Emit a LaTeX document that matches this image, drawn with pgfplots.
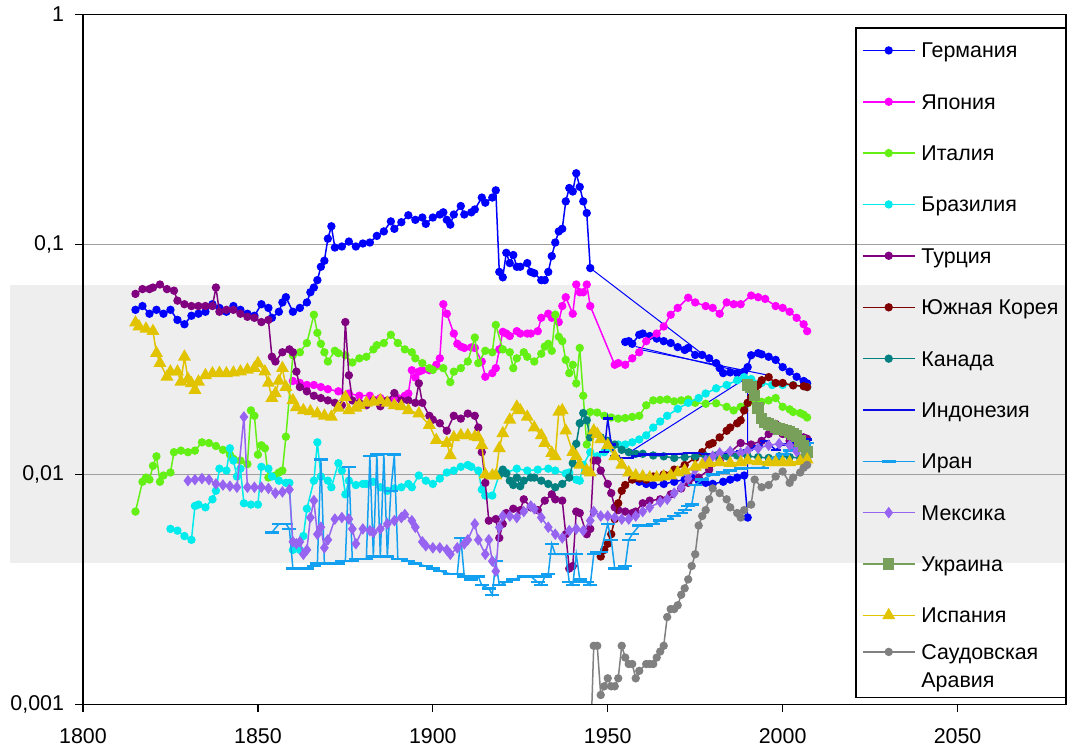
\documentclass[border=0pt]{standalone}
\usepackage{fontspec}
\setmainfont{Liberation Sans}
\usepackage{pgfplots}
\pgfplotsset{compat=1.18}
\definecolor{cGer}{RGB}{0,0,255}
\definecolor{cJap}{RGB}{255,0,255}
\definecolor{cIta}{RGB}{100,240,20}
\definecolor{cBra}{RGB}{0,235,235}
\definecolor{cTur}{RGB}{128,0,128}
\definecolor{cKor}{RGB}{128,0,0}
\definecolor{cCan}{RGB}{0,128,128}
\definecolor{cIdn}{RGB}{10,10,230}
\definecolor{cIrn}{RGB}{20,160,240}
\definecolor{cMex}{RGB}{150,100,240}
\definecolor{cUkr}{RGB}{120,160,90}
\definecolor{cEsp}{RGB}{225,195,0}
\definecolor{cSau}{RGB}{128,128,128}
\definecolor{bandc}{RGB}{238,238,238}
\newcommand{\ls}{\rule[-3pt]{0pt}{9.5pt}}
\pgfplotsset{saudilegend/.style={legend image code/.code={%
    \begin{pgfinterruptboundingbox}
    \draw[mark repeat=2,mark phase=2,##1] plot coordinates {(0pt,13.7pt) (13pt,13.7pt) (26pt,13.7pt)};
    \end{pgfinterruptboundingbox}
    \path (0pt,0pt) (26pt,10pt);
  }}}
\begin{document}
\fontsize{10.7}{12.8}\selectfont
\begin{tikzpicture}
\begin{axis}[
  scale only axis, width=491.5pt, height=345pt,
  ymode=log, xmin=1800, xmax=2081, ymin=0.001, ymax=1,
  xtick={1800,1850,1900,1950,2000,2050},
  xticklabels={1800,1850,1900,1950,2000,2050},
  ytick={0.001,0.01,0.1,1},
  yticklabels={{0,001},{0,01},{0,1},{1}},
  yminorticks=false, xminorticks=false,
  xtick pos=bottom, ytick pos=left,
  tick align=outside, major tick length=3.75pt,
  tick style={black, line width=0.6pt},
  axis line style={line width=0.6pt},
  ticklabel style={font=\fontsize{10.7}{12.8}\selectfont},
  xticklabel style={yshift=-4.5pt},
  yticklabel style={xshift=-2pt},
  axis on top,
  clip mode=individual,
  every axis plot/.append style={line width=0.75pt},
  legend image code/.code={
    \path (0pt,0pt) (26pt,7.4pt);
    \draw[mark repeat=2,mark phase=2,#1] plot coordinates {(0pt,3.7pt) (13pt,3.7pt) (26pt,3.7pt)};
  },
  legend style={at={(rel axis cs:1,1)}, anchor=north east, yshift=-6.5pt,
    draw=black, line width=0.6pt, fill=none,
    font=\fontsize{10.7}{12.8}\selectfont,
    inner xsep=3pt, inner ysep=7pt,
    nodes={inner sep=0.5pt},
    cells={anchor=base west},
    row sep=15.7pt, column sep=2.5pt},
]
\fill[bandc] (axis cs:1779,0.0664) rectangle (axis cs:2081,0.00414);
\draw[gray!75, line width=0.6pt] (axis cs:1800,0.1) -- (axis cs:2081,0.1);
\draw[gray!75, line width=0.6pt] (axis cs:1800,0.01) -- (axis cs:2081,0.01);

% Germany
\addplot[color=cGer, mark=*, mark size=1.7pt] coordinates {
(1815,0.052)(1817,0.054)(1819,0.050)(1821,0.052)(1823,0.050)(1825,0.052)(1827,0.047)(1829,0.045)(1831,0.049)(1833,0.050)(1835,0.051)(1837,0.055)(1839,0.053)(1841,0.051)(1843,0.054)(1845,0.052)(1847,0.050)(1849,0.049)(1851,0.055)(1853,0.053)(1854,0.048)(1856,0.051)(1857,0.056)(1858,0.059)(1860,0.051)(1862,0.053)(1864,0.056)(1865,0.062)(1866,0.065)(1867,0.070)(1868,0.080)(1869,0.085)(1870,0.106)(1871,0.120)(1872,0.097)(1874,0.098)(1876,0.103)(1878,0.098)(1880,0.101)(1882,0.102)(1884,0.109)(1886,0.114)(1888,0.126)(1889,0.117)(1891,0.125)(1893,0.134)(1895,0.128)(1897,0.131)(1898,0.123)(1900,0.131)(1902,0.135)(1903,0.138)(1904,0.128)(1905,0.122)(1906,0.135)(1908,0.147)(1909,0.135)(1911,0.138)(1912,0.142)(1914,0.160)(1915,0.152)(1917,0.160)(1918,0.172)(1919,0.076)(1920,0.072)(1921,0.092)(1922,0.083)(1923,0.090)(1924,0.080)(1925,0.080)(1927,0.083)(1928,0.076)(1929,0.075)(1931,0.070)(1932,0.070)(1933,0.076)(1934,0.089)(1935,0.102)(1936,0.114)(1937,0.117)(1938,0.154)(1939,0.176)(1940,0.170)(1941,0.204)(1942,0.178)(1943,0.154)(1944,0.137)(1945,0.079)
};
\addlegendentry{\ls Германия}
\addplot[forget plot, color=cGer, mark=*, mark size=1.7pt] coordinates {
(1955,0.0377)(1956,0.038)(1957,0.037)(1959,0.0405)(1960,0.041)(1962,0.040)(1964,0.039)(1966,0.038)(1968,0.0373)(1970,0.0358)(1972,0.0348)(1973,0.0355)(1975,0.0331)(1977,0.0331)(1979,0.032)(1981,0.0305)(1982,0.029)(1983,0.0276)(1985,0.0278)(1987,0.0276)(1989,0.028)(1990,0.0293)(1991,0.033)(1993,0.0337)(1994,0.0333)(1996,0.0325)(1998,0.0315)(2000,0.0293)(2002,0.028)(2004,0.0266)(2006,0.0255)(2007,0.0249)
};
\addplot[forget plot, color=cGer, mark=*, mark size=1.7pt] coordinates {
(1957,0.0096)(1959,0.0093)(1961,0.0091)(1963,0.009)(1966,0.0091)(1969,0.0093)(1972,0.0095)(1974,0.0097)(1976,0.0094)(1978,0.0092)(1980,0.0091)(1983,0.0093)(1985,0.0095)(1987,0.0097)(1989,0.0099)(1990,0.0065)
};
\addplot[forget plot, color=cGer, line width=0.5pt, mark=none] coordinates {(1945,0.079)(1983,0.0285)};
\addplot[forget plot, color=cGer, line width=0.5pt, mark=none] coordinates {(1958,0.036)(1988,0.028)};
\addplot[forget plot, color=cGer, line width=0.5pt, mark=none] coordinates {(1959,0.035)(1996,0.027)};
\addplot[forget plot, color=cGer, line width=0.5pt, mark=none] coordinates {(1957,0.0127)(1990,0.0265)(1990,0.0099)};

% Japan
\addplot[color=cJap, mark=*, mark size=1.7pt] coordinates {
(1860,0.0255)(1862,0.025)(1864,0.0245)(1866,0.0245)(1868,0.024)(1870,0.0235)(1873,0.023)(1876,0.0225)(1879,0.022)(1882,0.022)(1885,0.0215)(1888,0.021)(1890,0.0215)(1892,0.022)(1893,0.0225)(1894,0.0284)(1895,0.0264)(1896,0.028)(1897,0.0284)(1899,0.0284)(1901,0.030)(1902,0.032)(1903,0.055)(1904,0.050)(1906,0.041)(1907,0.037)(1908,0.036)(1909,0.0355)(1911,0.0357)(1912,0.0355)(1914,0.031)(1915,0.0266)(1917,0.0276)(1918,0.029)(1919,0.035)(1920,0.0417)(1921,0.041)(1922,0.040)(1924,0.042)(1925,0.041)(1927,0.041)(1928,0.041)(1930,0.042)(1931,0.048)(1933,0.050)(1934,0.048)(1936,0.046)(1937,0.054)(1938,0.059)(1940,0.050)(1941,0.067)(1942,0.062)(1943,0.062)(1944,0.067)(1945,0.054)(1952,0.030)(1953,0.0305)(1955,0.030)(1957,0.032)(1959,0.034)(1961,0.038)(1964,0.041)(1966,0.044)(1968,0.0495)(1970,0.053)(1973,0.0587)(1975,0.056)(1978,0.054)(1980,0.053)(1982,0.050)(1984,0.056)(1986,0.055)(1988,0.055)(1991,0.060)(1993,0.059)(1995,0.058)(1998,0.054)(2000,0.053)(2002,0.051)(2004,0.048)(2006,0.045)(2007,0.042)
};
\addlegendentry{\ls Япония}

% Italy
\addplot[color=cIta, mark=*, mark size=1.7pt] coordinates {
(1815,0.0069)(1817,0.0093)(1818,0.0097)(1819,0.0095)(1820,0.0109)(1821,0.012)(1822,0.0093)(1823,0.0099)(1825,0.0102)(1826,0.0125)(1828,0.0127)(1830,0.0125)(1832,0.0127)(1834,0.0138)(1836,0.0137)(1838,0.0133)(1840,0.0128)(1842,0.0122)(1843,0.0117)(1845,0.0115)(1847,0.0111)(1848,0.019)(1849,0.018)(1850,0.0122)(1851,0.0134)(1852,0.013)(1853,0.0097)(1855,0.0099)(1856,0.0102)(1857,0.0104)(1858,0.0146)(1860,0.033)(1862,0.034)(1864,0.0373)(1866,0.0495)(1867,0.0413)(1868,0.037)(1869,0.034)(1870,0.031)(1872,0.0345)(1873,0.0337)(1875,0.033)(1877,0.0307)(1879,0.032)(1881,0.0325)(1883,0.035)(1884,0.0365)(1886,0.0373)(1888,0.0405)(1890,0.0373)(1892,0.035)(1894,0.034)(1895,0.032)(1897,0.0305)(1899,0.029)(1900,0.0285)(1903,0.029)(1905,0.0252)(1906,0.028)(1908,0.029)(1910,0.031)(1912,0.0394)(1913,0.0305)(1915,0.0345)(1917,0.034)(1918,0.0447)(1920,0.035)(1922,0.034)(1923,0.029)(1924,0.032)(1926,0.034)(1927,0.0325)(1929,0.031)(1931,0.0335)(1932,0.036)(1933,0.037)(1934,0.0345)(1935,0.0495)(1936,0.0397)(1937,0.038)(1938,0.0315)(1939,0.0276)(1940,0.030)(1941,0.0249)(1942,0.0355)(1943,0.022)(1944,0.0135)(1945,0.0187)(1947,0.0186)(1949,0.018)(1951,0.0177)(1953,0.0175)(1955,0.0176)(1957,0.0178)(1959,0.018)(1961,0.020)(1963,0.021)(1965,0.0211)(1967,0.0212)(1969,0.0208)(1971,0.021)(1973,0.0212)(1975,0.0205)(1978,0.0203)(1981,0.0204)(1984,0.0197)(1986,0.019)(1988,0.0197)(1990,0.0204)(1992,0.0206)(1994,0.0207)(1996,0.021)(1998,0.0215)(2000,0.0197)(2002,0.0192)(2003,0.0187)(2005,0.0185)(2006,0.0182)(2007,0.0177)
};
\addlegendentry{\ls Италия}

% Brazil
\addplot[color=cBra, mark=*, mark size=1.7pt] coordinates {
(1825,0.0058)(1827,0.0057)(1829,0.0054)(1831,0.0052)(1832,0.0073)(1833,0.0074)(1835,0.0072)(1837,0.0078)(1838,0.0085)(1839,0.0106)(1841,0.0104)(1842,0.013)(1843,0.0115)(1844,0.0098)(1845,0.0106)(1846,0.0075)(1848,0.0074)(1850,0.0074)(1851,0.0108)(1853,0.0106)(1854,0.0098)(1856,0.0094)(1858,0.0092)(1859,0.0092)(1860,0.0047)(1862,0.0047)(1863,0.0054)(1864,0.0071)(1866,0.0094)(1867,0.0138)(1868,0.0098)(1870,0.0094)(1871,0.0088)(1873,0.0112)(1874,0.0104)(1875,0.0082)(1876,0.0094)(1878,0.009)(1880,0.0091)(1881,0.0091)(1883,0.0093)(1885,0.0088)(1887,0.0085)(1889,0.0087)(1891,0.0088)(1893,0.0091)(1894,0.0088)(1896,0.0099)(1898,0.0094)(1900,0.0091)(1902,0.0096)(1904,0.0102)(1906,0.0104)(1908,0.0108)(1910,0.011)(1911,0.0108)(1913,0.0104)(1914,0.0086)(1915,0.0081)(1917,0.0081)(1919,0.010)(1921,0.0102)(1924,0.0106)(1927,0.0104)(1930,0.0105)(1933,0.0106)(1935,0.0104)(1938,0.0101)(1939,0.0102)(1941,0.0095)(1942,0.0094)(1943,0.011)(1945,0.0125)(1947,0.012)(1949,0.0125)(1951,0.013)(1953,0.0135)(1955,0.0135)(1957,0.0138)(1959,0.0142)(1961,0.0148)(1963,0.016)(1965,0.017)(1967,0.018)(1970,0.0193)(1973,0.0205)(1976,0.0215)(1978,0.0225)(1981,0.0237)(1984,0.0245)(1987,0.0257)(1989,0.0265)(1991,0.026)(1994,0.025)(1997,0.0245)(2000,0.0245)(2003,0.0245)(2007,0.024)
};
\addlegendentry{\ls Бразилия}

% Turkey
\addplot[color=cTur, mark=*, mark size=1.7pt] coordinates {
(1815,0.061)(1817,0.064)(1819,0.064)(1820,0.065)(1822,0.067)(1824,0.064)(1826,0.063)(1827,0.057)(1829,0.055)(1831,0.054)(1833,0.054)(1835,0.054)(1837,0.054)(1838,0.065)(1839,0.051)(1841,0.052)(1843,0.052)(1845,0.050)(1847,0.0485)(1849,0.048)(1851,0.046)(1853,0.047)(1854,0.0325)(1855,0.031)(1857,0.034)(1859,0.035)(1860,0.034)(1861,0.028)(1862,0.024)(1864,0.023)(1866,0.022)(1868,0.0215)(1870,0.021)(1872,0.0205)(1874,0.020)(1875,0.046)(1876,0.027)(1877,0.021)(1879,0.0205)(1881,0.020)(1883,0.021)(1885,0.0198)(1887,0.021)(1889,0.0226)(1891,0.021)(1893,0.021)(1895,0.0205)(1896,0.0249)(1897,0.0205)(1899,0.018)(1900,0.0173)(1902,0.0167)(1904,0.0155)(1906,0.018)(1908,0.0175)(1910,0.0184)(1912,0.018)(1913,0.016)(1914,0.0125)(1915,0.0092)(1916,0.0063)(1918,0.0064)(1919,0.0053)(1920,0.0061)(1921,0.0068)(1923,0.0071)(1925,0.007)(1926,0.0078)(1928,0.0072)(1930,0.007)(1932,0.0077)(1934,0.0082)(1935,0.0078)(1937,0.0077)(1938,0.0055)(1939,0.0039)(1940,0.004)(1941,0.0069)(1942,0.0068)(1944,0.0055)(1945,0.0058)(1946,0.0115)(1947,0.0115)(1948,0.0104)(1950,0.0091)(1951,0.0083)(1952,0.0072)(1953,0.007)(1955,0.0069)(1957,0.0068)(1958,0.0069)(1960,0.0075)(1962,0.0077)(1965,0.0078)(1968,0.0082)(1971,0.0087)(1973,0.0092)(1976,0.0097)(1979,0.0105)(1982,0.0115)(1985,0.0125)(1988,0.0137)(1991,0.0135)(1994,0.014)(1996,0.015)(1998,0.0166)(2000,0.015)(2002,0.014)(2004,0.0135)(2006,0.0145)(2007,0.0143)
};
\addlegendentry{\ls Турция}

% South Korea
\addplot[color=cKor, mark=*, mark size=1.7pt] coordinates {
(1948,0.0044)(1949,0.0047)(1950,0.005)(1951,0.0055)(1952,0.0064)(1953,0.0075)(1954,0.0085)(1955,0.009)(1957,0.0095)(1959,0.0096)(1961,0.0095)(1963,0.0098)(1966,0.010)(1969,0.0105)(1972,0.011)(1975,0.0118)(1977,0.0125)(1979,0.0135)(1980,0.0137)(1982,0.0145)(1984,0.0155)(1985,0.016)(1987,0.0167)(1988,0.0172)(1989,0.019)(1990,0.0205)(1991,0.0217)(1992,0.0235)(1993,0.0245)(1994,0.0257)(1996,0.0265)(1998,0.025)(2000,0.025)(2003,0.0244)(2006,0.0242)(2007,0.024)
};
\addlegendentry{\ls Южная Корея}

% Canada
\addplot[color=cCan, mark=*, mark size=1.7pt] coordinates {
(1919,0.0100)(1920,0.0105)(1921,0.0101)(1922,0.0094)(1923,0.009)(1924,0.0097)(1925,0.0089)(1926,0.0094)(1928,0.0097)(1929,0.0097)(1931,0.0094)(1933,0.0091)(1935,0.0088)(1937,0.0091)(1939,0.0097)(1940,0.0112)(1941,0.0136)(1942,0.0167)(1943,0.0185)(1944,0.0172)(1945,0.0145)(1946,0.0152)(1948,0.0145)(1950,0.014)(1952,0.0135)(1954,0.0128)(1956,0.0125)(1958,0.0123)(1960,0.0123)(1963,0.0121)(1966,0.012)(1969,0.0118)(1972,0.0119)(1975,0.012)(1978,0.012)(1981,0.0121)(1984,0.012)(1987,0.0121)(1990,0.012)(1993,0.0119)(1996,0.0118)(1999,0.012)(2002,0.0119)(2005,0.0118)(2007,0.0118)
};
\addlegendentry{\ls Канада}

% Indonesia
\addplot[color=cIdn, mark=-, mark size=2.5pt, mark options={line width=1.2pt}] coordinates {
(1949,0.0125)(1950,0.0175)(1951,0.0135)(1952,0.012)(1954,0.0118)(1956,0.0118)(1958,0.012)(1960,0.0122)(1962,0.0122)(1965,0.0122)(1968,0.0123)(1970,0.0123)(1973,0.0124)(1975,0.0124)(1978,0.0123)(1980,0.0123)(1983,0.0124)(1985,0.0125)(1988,0.0126)(1990,0.0128)(1993,0.0133)(1995,0.014)(1998,0.0128)(2000,0.0135)(2003,0.0138)(2005,0.014)(2007,0.0142)
};
\addlegendentry{\ls Индонезия}

% Iran
\addplot[color=cIrn, mark=-, mark size=3.5pt, mark options={line width=1.2pt}] coordinates {
(1854,0.0056)(1856,0.0061)(1858,0.0061)(1859,0.0058)(1860,0.0039)(1862,0.0039)(1864,0.0039)(1866,0.004)(1867,0.0041)(1868,0.0116)(1869,0.0041)(1871,0.0041)(1873,0.0041)(1874,0.0042)(1875,0.0042)(1876,0.0108)(1877,0.0042)(1878,0.0043)(1880,0.0043)(1881,0.0043)(1882,0.012)(1883,0.0044)(1884,0.0122)(1885,0.0044)(1886,0.0123)(1887,0.0044)(1888,0.0085)(1889,0.0122)(1890,0.0043)(1891,0.0043)(1893,0.0042)(1895,0.0041)(1898,0.004)(1900,0.0039)(1902,0.0038)(1905,0.0037)(1907,0.0037)(1908,0.0053)(1909,0.0036)(1911,0.0035)(1913,0.0036)(1914,0.0033)(1916,0.0032)(1917,0.003)(1918,0.0042)(1919,0.0033)(1921,0.0034)(1923,0.0035)(1926,0.0036)(1928,0.0036)(1930,0.0034)(1931,0.0033)(1932,0.0036)(1933,0.0037)(1934,0.005)(1935,0.0045)(1936,0.0045)(1937,0.0045)(1938,0.0045)(1939,0.0034)(1940,0.0033)(1941,0.0045)(1942,0.0035)(1943,0.0034)(1944,0.0034)(1945,0.0033)(1946,0.0045)(1947,0.0046)(1948,0.0046)(1950,0.0061)(1951,0.0052)(1952,0.0039)(1954,0.0039)(1955,0.004)(1956,0.0052)(1957,0.0055)(1959,0.006)(1961,0.006)(1963,0.0061)(1965,0.0063)(1967,0.0064)(1969,0.0066)(1971,0.0068)(1972,0.007)(1973,0.0073)(1974,0.0074)(1975,0.009)(1977,0.0095)(1980,0.010)(1983,0.0102)(1985,0.0104)(1988,0.0106)(1991,0.0107)(1994,0.0107)(1996,0.0112)(1998,0.0118)(2000,0.0122)(2002,0.0127)(2004,0.013)(2006,0.0135)(2007,0.0137)
};
\addlegendentry{\ls Иран}

% Mexico
\addplot[color=cMex, mark=diamond*, mark size=2.3pt] coordinates {
(1830,0.0094)(1832,0.0095)(1834,0.0096)(1836,0.0095)(1838,0.0091)(1840,0.009)(1842,0.0089)(1844,0.0088)(1846,0.0178)(1847,0.0088)(1849,0.0088)(1851,0.0088)(1853,0.0087)(1855,0.0083)(1857,0.0084)(1859,0.0086)(1860,0.0051)(1861,0.005)(1862,0.0051)(1863,0.0045)(1864,0.0047)(1865,0.0065)(1866,0.0077)(1867,0.0055)(1868,0.0059)(1869,0.0048)(1870,0.0052)(1872,0.0064)(1874,0.0065)(1876,0.0064)(1877,0.0058)(1878,0.005)(1880,0.0058)(1882,0.0057)(1883,0.0056)(1885,0.0058)(1887,0.0061)(1889,0.0063)(1891,0.0065)(1892,0.0067)(1894,0.0063)(1895,0.0059)(1897,0.0051)(1898,0.0049)(1900,0.0048)(1902,0.0048)(1904,0.0047)(1905,0.0045)(1907,0.0048)(1909,0.005)(1910,0.0052)(1912,0.0061)(1913,0.0052)(1915,0.0045)(1916,0.0052)(1917,0.0042)(1918,0.0038)(1919,0.0059)(1920,0.0066)(1922,0.0066)(1924,0.0065)(1926,0.0069)(1928,0.0073)(1929,0.0071)(1931,0.0065)(1933,0.0059)(1935,0.0055)(1937,0.0053)(1939,0.0057)(1941,0.0058)(1943,0.0057)(1945,0.0063)(1946,0.0069)(1948,0.0066)(1950,0.0066)(1952,0.0065)(1954,0.0064)(1956,0.0064)(1958,0.0066)(1960,0.0069)(1962,0.0072)(1965,0.0076)(1967,0.0078)(1969,0.0083)(1971,0.0088)(1973,0.0096)(1975,0.0105)(1978,0.0115)(1980,0.012)(1982,0.0124)(1985,0.0126)(1988,0.0124)(1990,0.0127)(1993,0.013)(1996,0.0134)(1999,0.0136)(2002,0.0134)(2004,0.0126)(2006,0.0118)(2007,0.0116)
};
\addlegendentry{\ls Мексика}

% Ukraine
\addplot[color=cUkr, mark=square*, mark size=2.5pt] coordinates {
(1990,0.0245)(1991,0.024)(1992,0.022)(1993,0.0195)(1994,0.0175)(1995,0.0168)(1996,0.0166)(1997,0.0163)(1998,0.016)(1999,0.0158)(2000,0.0157)(2001,0.0155)(2002,0.0153)(2003,0.015)(2004,0.0147)(2005,0.014)(2006,0.0133)(2007,0.0125)
};
\addlegendentry{\ls Украина}

% Spain
\addplot[color=cEsp, mark=triangle*, mark size=3pt] coordinates {
(1815,0.0457)(1816,0.044)(1818,0.043)(1820,0.042)(1821,0.0337)(1822,0.0305)(1824,0.0266)(1825,0.028)(1827,0.028)(1828,0.0253)(1829,0.0325)(1830,0.026)(1831,0.0249)(1832,0.0233)(1833,0.0253)(1835,0.027)(1837,0.0275)(1839,0.0276)(1841,0.0275)(1843,0.0277)(1845,0.028)(1847,0.0285)(1849,0.029)(1850,0.0305)(1852,0.028)(1853,0.025)(1854,0.0215)(1855,0.0225)(1856,0.0255)(1857,0.029)(1858,0.024)(1860,0.021)(1861,0.0196)(1863,0.019)(1865,0.0188)(1867,0.0184)(1869,0.018)(1871,0.0178)(1873,0.0195)(1875,0.0217)(1876,0.019)(1878,0.0195)(1879,0.020)(1881,0.0205)(1883,0.0207)(1885,0.021)(1887,0.0205)(1889,0.020)(1891,0.0198)(1893,0.019)(1896,0.0184)(1899,0.0164)(1901,0.0141)(1904,0.0137)(1905,0.0121)(1906,0.0145)(1908,0.0148)(1910,0.0148)(1912,0.0146)(1913,0.0145)(1914,0.0134)(1915,0.0100)(1917,0.0099)(1918,0.0099)(1919,0.013)(1920,0.0151)(1922,0.0173)(1924,0.0197)(1925,0.019)(1927,0.0178)(1929,0.016)(1931,0.0148)(1932,0.0137)(1934,0.0124)(1935,0.012)(1936,0.0187)(1937,0.019)(1938,0.0155)(1940,0.0125)(1941,0.012)(1942,0.011)(1944,0.0104)(1945,0.0102)(1946,0.0155)(1947,0.015)(1948,0.0142)(1950,0.0134)(1952,0.012)(1954,0.011)(1956,0.0102)(1958,0.0099)(1960,0.0098)(1962,0.0097)(1964,0.0097)(1966,0.0098)(1968,0.0099)(1970,0.0102)(1972,0.0104)(1975,0.0108)(1977,0.011)(1979,0.0112)(1982,0.0113)(1985,0.0112)(1988,0.0113)(1990,0.0115)(1993,0.0114)(1996,0.0113)(1998,0.0113)(2000,0.0113)(2002,0.0113)(2005,0.0114)(2007,0.0116)
};
\addlegendentry{\ls Испания}

% Saudi Arabia
\addplot[color=cSau, mark=*, mark size=1.7pt, saudilegend] coordinates {
(1945,0.0006)(1946,0.0018)(1947,0.0018)(1948,0.0011)(1949,0.0012)(1950,0.0013)(1951,0.0012)(1952,0.0012)(1953,0.0013)(1954,0.0018)(1955,0.0016)(1956,0.0015)(1957,0.0015)(1958,0.0013)(1959,0.0014)(1961,0.0015)(1962,0.0015)(1963,0.0015)(1964,0.0016)(1965,0.0017)(1966,0.0018)(1967,0.0024)(1968,0.0026)(1969,0.0026)(1970,0.0027)(1971,0.003)(1972,0.0032)(1973,0.0035)(1974,0.004)(1975,0.0045)(1976,0.006)(1977,0.0066)(1978,0.007)(1979,0.0078)(1980,0.0087)(1982,0.0083)(1984,0.0078)(1985,0.0072)(1987,0.0068)(1988,0.0065)(1989,0.007)(1991,0.0074)(1992,0.0095)(1994,0.0088)(1996,0.009)(1998,0.0098)(2000,0.0103)(2002,0.0092)(2003,0.0097)(2005,0.0102)(2006,0.0107)(2007,0.011)
};
\addlegendentry{\raisebox{-4pt}[10pt][0pt]{\vbox{\baselineskip=14pt\hbox{\smash{Саудовская}}\hbox{Аравия}}}}
\end{axis}
\path ([shift={(-41.5pt,-24pt)}]current axis.south west) rectangle ([shift={(1pt,6.5pt)}]current axis.north east);
\end{tikzpicture}
\end{document}
